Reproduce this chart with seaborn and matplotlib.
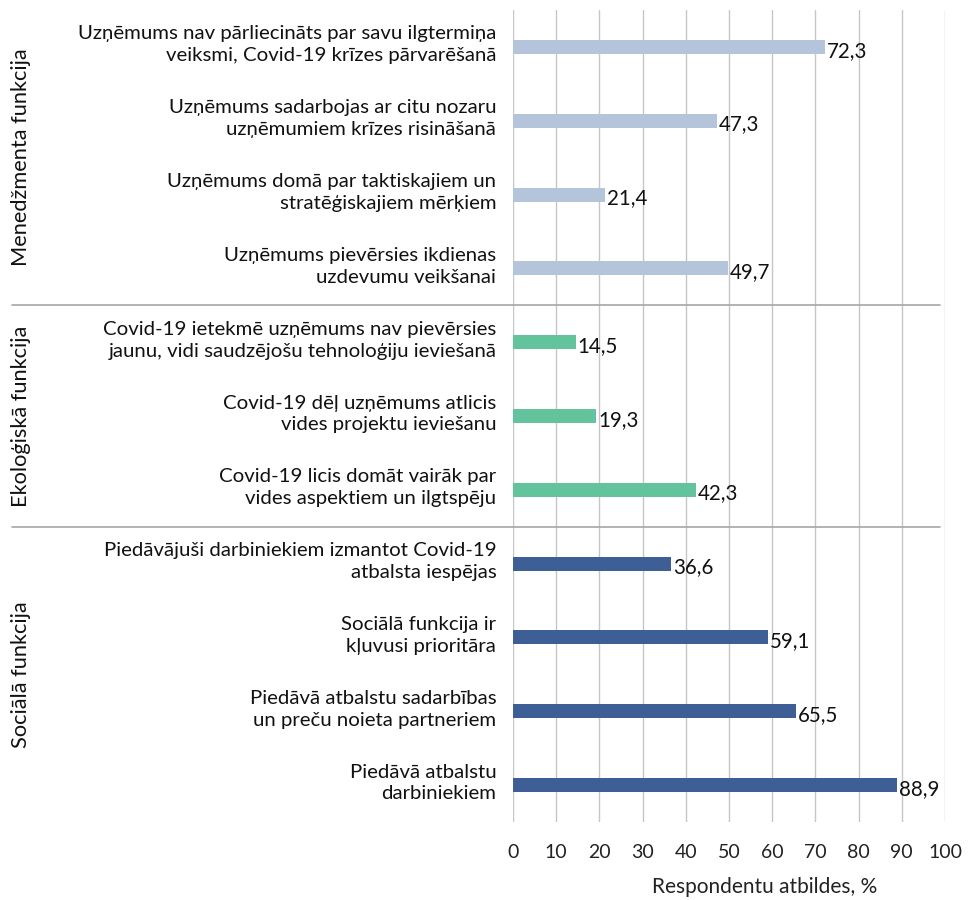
import pandas as pd
import numpy as np
import matplotlib
matplotlib.use("Agg")
import matplotlib.pyplot as plt
import matplotlib.transforms as mtransforms
import seaborn as sns

# dati no attēla
groups = ["Menedžmenta funkcija", "Ekoloģiskā funkcija", "Sociālā funkcija"]

mgmt_labels = [
    "Uzņēmums nav pārliecināts par savu ilgtermiņa\nveiksmi, Covid-19 krīzes pārvarēšanā",
    "Uzņēmums sadarbojas ar citu nozaru\nuzņēmumiem krīzes risināšanā",
    "Uzņēmums domā par taktiskajiem un\nstratēģiskajiem mērķiem",
    "Uzņēmums pievērsies ikdienas\nuzdevumu veikšanai",
]
mgmt_values = [72.3, 47.3, 21.4, 49.7]

eco_labels = [
    "Covid-19 ietekmē uzņēmums nav pievērsies\njaunu, vidi saudzējošu tehnoloģiju ieviešanā",
    "Covid-19 dēļ uzņēmums atlicis\nvides projektu ieviešanu",
    "Covid-19 licis domāt vairāk par\nvides aspektiem un ilgtspēju",
]
eco_values = [14.5, 19.3, 42.3]

soc_labels = [
    "Piedāvājuši darbiniekiem izmantot Covid-19\natbalsta iespējas",
    "Sociālā funkcija ir\nkļuvusi prioritāra",
    "Piedāvā atbalstu sadarbības\nun preču noieta partneriem",
    "Piedāvā atbalstu\ndarbiniekiem",
]
soc_values = [36.6, 59.1, 65.5, 88.9]

x_ticks = [0, 10, 20, 30, 40, 50, 60, 70, 80, 90, 100]
x_label = "Respondentu atbildes, %"

colors = {groups[0]: "#b4c4db", groups[1]: "#63c39c", groups[2]: "#3d5f96"}

df = pd.DataFrame({
    "label": mgmt_labels + eco_labels + soc_labels,
    "value": mgmt_values + eco_values + soc_values,
    "group": [groups[0]] * len(mgmt_labels) + [groups[1]] * len(eco_labels) + [groups[2]] * len(soc_labels),
})

sns.set_style("white")
plt.rcParams["font.family"] = ["Lato", "DejaVu Sans"]

fig = plt.figure(figsize=(9.75, 9.0), dpi=100)
ax = fig.add_axes([513 / 975, 1 - 822 / 900, 432 / 975, 812 / 900])

sns.barplot(data=df, y="label", x="value", hue="group", palette=colors,
            orient="h", dodge=False, width=0.19, legend=False, ax=ax,
            saturation=1, linewidth=0, zorder=2)

ax.set_xlim(0, 100)
ax.set_ylim(len(df) - 0.5, -0.5)
ax.set_xticks(x_ticks)
ax.set_xticklabels([str(t) for t in x_ticks], fontsize=14, color="#222222")
ax.tick_params(axis="x", length=0, pad=16)
ax.tick_params(axis="y", length=0, pad=12)
ax.set_yticks(range(len(df)))
ax.set_yticklabels(df["label"], fontsize=14.7, color="#111111", linespacing=1.35)
# nedaudz virs stabiņa centra, kā oriģinālā
shift = mtransforms.ScaledTranslation(0, 6 / 100, fig.dpi_scale_trans)
for t in ax.get_yticklabels():
    t.set_horizontalalignment("right")
    t.set_multialignment("right")
    t.set_transform(t.get_transform() + shift)

ax.grid(axis="x", color="#c6c6c6", linewidth=1.0, zorder=1)
ax.grid(axis="y", visible=False)
for s in ax.spines.values():
    s.set_visible(False)

ax.set_ylabel("")
ax.set_xlabel(x_label, fontsize=15, color="#222222")
ax.xaxis.set_label_coords(0.583, -0.068)

# vērtību etiķetes
for i, v in enumerate(df["value"]):
    ax.text(v + 0.4, i + 0.05, f"{v:.1f}".replace(".", ","), va="center", ha="left",
            fontsize=14.8, color="#111111")

# grupu atdalītāji un nosaukumi
n1 = len(mgmt_labels)
n2 = n1 + len(eco_labels)
for pos in [n1 - 0.5, n2 - 0.5]:
    ax.plot([-1.16, 0.988], [pos, pos], transform=ax.get_yaxis_transform(),
            color="#a6a6a6", linewidth=1.2, clip_on=False)

starts = [-0.5, n1 - 0.5, n2 - 0.5]
ends = [n1 - 0.5, n2 - 0.5, len(df) - 0.5]
for g, a, b in zip(groups, starts, ends):
    ax.text(-1.14, (a + b) / 2, g, rotation=90, va="center", ha="center",
            fontsize=15.7, color="#111111", transform=ax.get_yaxis_transform())

fig.savefig("out.png", dpi=100)
